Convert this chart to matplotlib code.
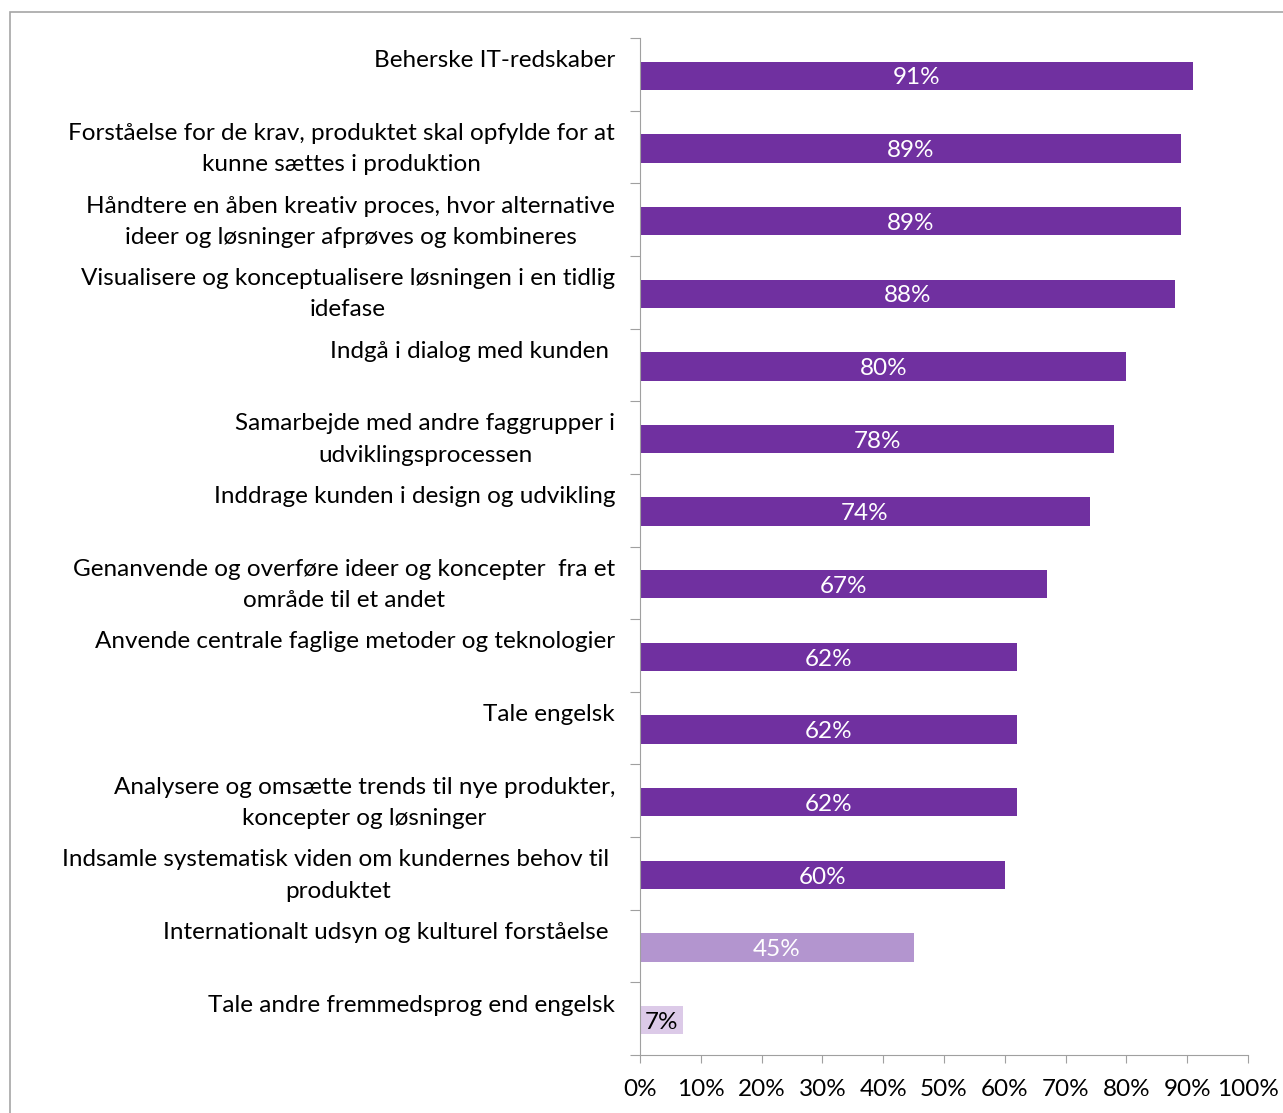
import numpy as np
import matplotlib.pyplot as plt
from matplotlib.patches import Rectangle

# Kompetencer (øverst først) og andel i procent
labels = [
    "Beherske IT-redskaber\n",
    "Forståelse for de krav, produktet skal opfylde for at\nkunne sættes i produktion",
    "Håndtere en åben kreativ proces, hvor alternative\nideer og løsninger afprøves og kombineres",
    "Visualisere og konceptualisere løsningen i en tidlig\nidefase",
    "Indgå i dialog med kunden \n",
    "Samarbejde med andre faggrupper i\nudviklingsprocessen",
    "Inddrage kunden i design og udvikling\n",
    "Genanvende og overføre ideer og koncepter  fra et\nområde til et andet",
    "Anvende centrale faglige metoder og teknologier\n",
    "Tale engelsk\n",
    "Analysere og omsætte trends til nye produkter,\nkoncepter og løsninger",
    "Indsamle systematisk viden om kundernes behov til \nproduktet",
    "Internationalt udsyn og kulturel forståelse \n",
    "Tale andre fremmedsprog end engelsk\n",
]
values = [91, 89, 89, 88, 80, 78, 74, 67, 62, 62, 62, 60, 45, 7]
bar_colors = ["#7030A0"] * 12 + ["#B395CF", "#DCCAE8"]
text_colors = ["white"] * 13 + ["black"]

plt.rcParams["font.family"] = ["Lato", "DejaVu Sans"]
FS = 17.5

fig = plt.figure(figsize=(12.83, 11.13), dpi=100)
# grå ramme om diagramområdet
fig.patches.append(Rectangle((10 / 1283, -0.1), 1.2, 1.1 - 12 / 1113,
                             transform=fig.transFigure, fill=False,
                             edgecolor="#A6A6A6", linewidth=1.2))

ax = fig.add_axes([640 / 1283, 1 - 1055 / 1113, 608 / 1283, (1055 - 38) / 1113])

n = len(values)
y = np.arange(n)
ax.barh(y + 0.02, values, height=0.39, color=bar_colors, edgecolor="none")
for yi, v, tc in zip(y, values, text_colors):
    ax.text(v / 2, yi + 0.05, f"{v}%", ha="center", va="center", color=tc, fontsize=FS)

ax.set_xlim(0, 100)
ax.set_ylim(n - 0.5, -0.5)

ax.set_xticks(np.arange(0, 101, 10))
ax.set_xticklabels([f"{t}%" for t in range(0, 101, 10)], fontsize=FS)
ax.tick_params(axis="x", length=6, color="#A0A0A0", pad=11)

ax.set_yticks(np.arange(-0.5, n, 1))
ax.set_yticklabels([])
# kategoritekster lidt over båndets midte
ax.set_yticks(y - 0.07, minor=True)
ax.set_yticklabels(labels, minor=True, fontsize=FS, multialignment="center",
                   linespacing=1.6)
ax.tick_params(axis="y", which="major", length=7, color="#A0A0A0")
ax.tick_params(axis="y", which="minor", length=0, pad=18)

for s in ["top", "right"]:
    ax.spines[s].set_visible(False)
for s in ["left", "bottom"]:
    ax.spines[s].set_color("#A0A0A0")

fig.savefig("out.png", dpi=100)
